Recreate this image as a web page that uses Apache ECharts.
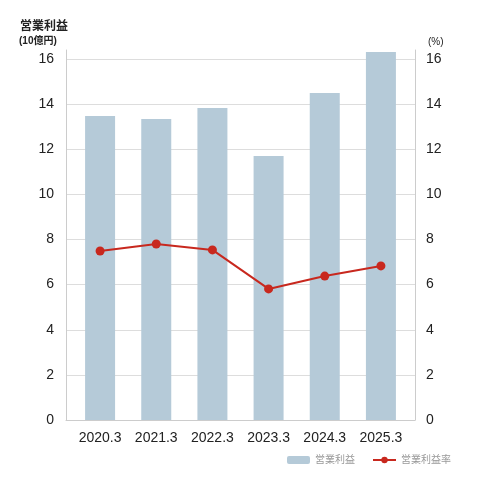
<!DOCTYPE html>
<html lang="ja">
<head>
  <meta charset="UTF-8">
  <title>chart</title>
  <style>html,body{margin:0;padding:0;background:#fff;}</style>
</head>
<body>
<div id="main" style="width: 482px;height:480px;"></div>
<script src="https://cdn.jsdelivr.net/npm/echarts@6/dist/echarts.min.js"></script>
<script>
// データ
var categories = ['2020.3', '2021.3', '2022.3', '2023.3', '2024.3', '2025.3'];
var profit = [13.47, 13.34, 13.83, 11.70, 14.49, 16.31];      // 営業利益（10億円）
var profitRate = [7.49, 7.80, 7.54, 5.81, 6.38, 6.83];        // 営業利益率（%）

var font = '"Liberation Sans", Arial, "Noto Sans CJK JP", sans-serif';
var myChart = echarts.init(document.getElementById('main'));

function tickLabel(v) {
  return v % 2 === 0 ? String(v) : '';
}

// grid 0: 枠・目盛り用、grid 1: データ用（左右に少し余白）
myChart.setOption({
  animation: false,
  textStyle: { fontFamily: font },
  title: [
    { text: '営業利益', left: 20, top: 21, padding: 0, textStyle: { fontSize: 12, fontWeight: 'bold', color: '#222', fontFamily: font } },
    { text: '(10億円)', left: 19, top: 36, padding: 0, textStyle: { fontSize: 10, fontWeight: 'bold', color: '#222', fontFamily: font } },
    { text: '(%)', left: 428, top: 37, padding: 0, textStyle: { fontSize: 10, fontWeight: 'normal', color: '#222', fontFamily: font } }
  ],
  legend: {
    right: 31,
    bottom: 15,
    padding: 0,
    itemWidth: 23,
    itemHeight: 8,
    itemGap: 17,
    textStyle: { fontSize: 10, color: '#999', fontFamily: font },
    data: ['営業利益', '営業利益率']
  },
  grid: [
    { left: 66, right: 67, top: 50, bottom: 60 },
    { left: 72, right: 73, top: 50, bottom: 60 }
  ],
  xAxis: [{
    type: 'category',
    gridIndex: 0,
    data: categories,
    axisLine: { lineStyle: { color: '#ccc' } },
    axisTick: { show: false },
    axisLabel: { show: false }
  }, {
    type: 'category',
    gridIndex: 1,
    data: categories,
    axisLine: { show: false },
    axisTick: { show: false },
    axisLabel: { fontSize: 14, color: '#222', margin: 11 }
  }],
  yAxis: [{
    type: 'value',
    gridIndex: 0,
    min: 0,
    max: 16.4,
    interval: 2,
    axisLine: { show: true, lineStyle: { color: '#ccc' } },
    axisTick: { show: false },
    axisLabel: { fontSize: 14, color: '#222', margin: 12, formatter: tickLabel, showMaxLabel: false },
    splitLine: { lineStyle: { color: '#ddd' }, showMaxLine: false }
  }, {
    type: 'value',
    gridIndex: 0,
    min: 0,
    max: 16.4,
    interval: 2,
    position: 'right',
    axisLine: { show: true, lineStyle: { color: '#ccc' } },
    axisTick: { show: false },
    axisLabel: { fontSize: 14, color: '#222', margin: 11, formatter: tickLabel, showMaxLabel: false },
    splitLine: { show: false }
  }, {
    type: 'value',
    gridIndex: 1,
    min: 0,
    max: 16.4,
    show: false
  }, {
    type: 'value',
    gridIndex: 1,
    min: 0,
    max: 16.4,
    position: 'right',
    show: false
  }],
  series: [{
    name: '営業利益',
    type: 'bar',
    xAxisIndex: 1,
    yAxisIndex: 2,
    data: profit,
    barWidth: 30,
    itemStyle: { color: '#b5cad8' }
  }, {
    name: '営業利益率',
    type: 'line',
    xAxisIndex: 1,
    yAxisIndex: 3,
    data: profitRate,
    symbol: 'circle',
    symbolSize: 9,
    lineStyle: { color: '#c8281e', width: 2 },
    itemStyle: { color: '#c8281e' }
  }]
});
</script>
</body>
</html>
